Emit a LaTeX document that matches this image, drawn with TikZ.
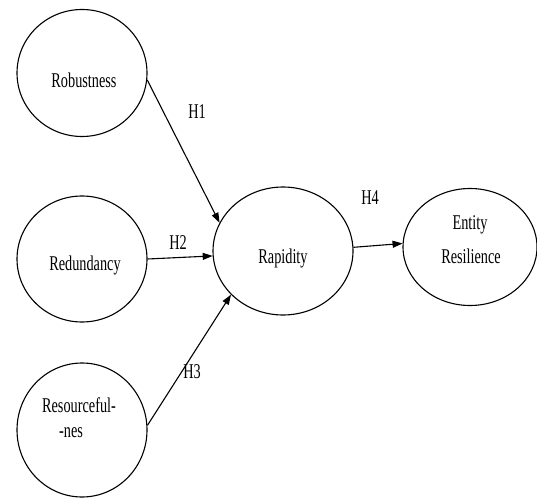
\documentclass[tikz,border=0pt]{standalone}
\usepackage{fontspec}
\setmainfont{Liberation Serif}
\usetikzlibrary{shapes.geometric,arrows.meta}
\newcommand{\sqz}[1]{\scalebox{0.68}[1]{#1}}
\tikzset{
  construct/.style={draw, ellipse, line width=1.1pt, inner sep=0pt},
  lbl/.style={font=\fontsize{21}{24}\selectfont, inner sep=0pt},
  path arrow/.style={line width=1.1pt, -{Triangle[length=10pt,width=7pt]}}
}
\begin{document}
\begin{tikzpicture}[x=1pt,y=-1pt]
\useasboundingbox (0,0) rectangle (537,497);
\node[construct, minimum width=130pt, minimum height=127pt] (rob) at (82,73) {};
\node[construct, minimum width=130pt, minimum height=126pt] (red) at (82,259) {};
\node[construct, minimum width=130pt, minimum height=134pt] (res) at (82,430) {};
\node[construct, minimum width=140pt, minimum height=128pt] (rap) at (283,251) {};
\node[construct, minimum width=134pt, minimum height=117pt] (ent) at (470,247) {};

\node[lbl] (trob) at (84,80) {\sqz{Robustness}};
\node[lbl] (tred) at (85,265) {\sqz{Redundancy}};
\node[lbl] (tres1) at (79,405) {\sqz{Resourceful-}};
\node[lbl] (tres2) at (71,433) {\sqz{-nes}};
\node[lbl] (trap) at (283,258) {\sqz{Rapidity}};
\node[lbl] (tent1) at (470,225) {\sqz{Entity}};
\node[lbl] (tent2) at (471,256) {\sqz{Resilience}};

\draw[path arrow] (rob.-6) -- (rap.156);
\draw[path arrow] (red.0) -- (rap.184);
\draw[path arrow] (res.4) -- (rap.220);
\draw[path arrow] (rap.3) -- (ent.177);

\node[lbl] (h1) at (197,112) {\sqz{H1}};
\node[lbl] (h2) at (178,243) {\sqz{H2}};
\node[lbl] (h3) at (192,372) {\sqz{H3}};
\node[lbl] (h4) at (370,198) {\sqz{H4}};
\end{tikzpicture}
\end{document}
